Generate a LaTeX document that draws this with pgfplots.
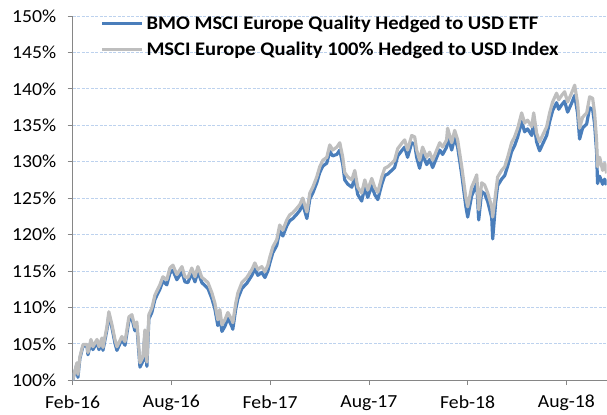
\documentclass[border=0pt]{standalone}
\usepackage{fontspec}
\setmainfont{Carlito}[FakeStretch=1.07]
\usepackage{pgfplots}
\pgfplotsset{compat=1.18}
\usepackage{pgfplotstable}
\definecolor{etfblue}{HTML}{4A7EBB}
\definecolor{idxgray}{HTML}{BEBEBE}
\definecolor{gridblue}{HTML}{BDD2EE}
\definecolor{axgray}{HTML}{868686}

\pgfplotstableread{
m v
0.00 100.0
0.26 102.4
0.32 100.8
0.44 103.2
0.63 104.9
0.87 104.9
0.93 103.8
1.11 105.6
1.23 104.6
1.48 105.6
1.60 104.6
1.78 105.8
1.84 104.5
2.08 107.3
2.20 109.4
2.39 107.6
2.57 105.6
2.69 104.6
2.99 106.0
3.18 105.3
3.42 108.7
3.60 109.0
3.78 107.3
3.90 108.0
4.09 102.4
4.27 103.2
4.39 106.9
4.51 102.5
4.63 109.0
4.81 109.9
5.00 111.7
5.30 113.1
5.48 114.2
5.72 113.8
5.91 115.4
6.09 115.8
6.33 114.5
6.64 115.6
6.82 114.2
7.00 114.1
7.24 115.4
7.43 114.2
7.61 115.6
7.85 114.1
8.03 113.8
8.22 113.4
8.46 112.0
8.64 110.6
8.82 108.3
8.94 109.7
9.07 107.6
9.25 108.3
9.43 109.3
9.67 108.3
9.73 107.9
9.91 110.6
10.04 112.0
10.28 113.4
10.58 114.1
10.89 115.2
11.07 116.1
11.25 115.2
11.49 115.6
11.68 114.9
11.86 115.8
11.98 116.9
12.16 118.3
12.40 119.3
12.58 121.3
12.77 120.6
13.01 122.0
13.19 122.7
13.38 123.0
13.62 123.6
13.80 124.1
13.98 125.0
14.23 123.1
14.41 125.7
14.59 126.5
14.83 127.9
15.01 129.3
15.20 130.2
15.44 130.6
15.62 132.3
15.80 131.6
16.05 132.0
16.23 132.6
16.41 130.6
16.53 128.5
16.72 127.9
16.96 127.5
17.14 128.8
17.32 126.5
17.56 125.7
17.75 127.5
17.93 126.1
18.17 127.7
18.35 126.5
18.54 125.8
18.78 127.9
18.96 129.1
19.14 129.3
19.38 129.8
19.56 130.2
19.75 131.8
19.99 132.5
20.17 133.0
20.35 131.6
20.60 133.6
20.78 133.4
20.90 131.6
21.08 130.2
21.26 132.0
21.51 130.6
21.69 131.3
21.87 130.2
22.12 131.6
22.30 132.6
22.48 132.0
22.72 133.0
22.78 134.6
23.03 132.6
23.21 134.3
23.39 133.0
23.64 129.3
23.88 125.2
24.00 123.8
24.24 126.5
24.43 127.5
24.55 128.2
24.67 123.4
24.85 127.1
25.03 126.8
25.22 125.7
25.46 123.8
25.52 122.4
25.70 125.7
25.82 127.9
26.06 128.8
26.25 129.3
26.43 130.6
26.67 132.6
26.85 133.4
27.04 134.6
27.28 136.7
27.46 135.3
27.64 135.7
27.89 134.8
28.01 136.7
28.19 133.9
28.37 132.7
28.55 133.6
28.80 134.8
28.98 136.7
29.16 138.2
29.40 139.4
29.53 138.5
29.71 139.1
29.89 139.6
30.07 138.2
30.31 139.4
30.50 140.5
30.68 138.0
30.80 134.6
30.98 136.1
31.23 136.7
31.41 138.9
31.59 138.7
31.71 136.7
31.83 133.0
31.89 129.3
32.02 130.6
32.20 128.8
32.32 129.8
32.44 128.4
}\idxdata

\pgfplotstableread{
m v
0.00 100.0
0.26 102.2
0.32 100.4
0.44 103.0
0.63 104.7
0.87 104.7
0.93 103.5
1.11 105.2
1.23 104.2
1.48 105.2
1.60 104.2
1.78 105.4
1.84 104.1
2.08 106.9
2.20 108.9
2.39 107.2
2.57 105.1
2.69 104.1
2.99 105.6
3.18 104.8
3.42 108.2
3.60 108.5
3.78 106.8
3.90 107.5
4.09 101.8
4.27 102.6
4.39 106.3
4.51 101.9
4.63 108.4
4.81 109.3
5.00 111.1
5.30 112.5
5.48 113.6
5.72 113.1
5.91 114.7
6.09 115.1
6.33 113.8
6.64 114.9
6.82 113.5
7.00 113.4
7.24 114.7
7.43 113.5
7.61 114.9
7.85 113.4
8.03 113.0
8.22 112.6
8.46 111.2
8.64 109.8
8.82 107.5
8.94 108.9
9.07 106.7
9.25 107.4
9.43 108.5
9.67 107.4
9.73 107.0
9.91 109.8
10.04 111.2
10.28 112.6
10.58 113.3
10.89 114.4
11.07 115.3
11.25 114.4
11.49 114.8
11.68 114.1
11.86 115.0
11.98 116.1
12.16 117.5
12.40 118.5
12.58 120.5
12.77 119.8
13.01 121.2
13.19 121.9
13.38 122.2
13.62 122.8
13.80 123.3
13.98 124.2
14.23 122.2
14.41 124.9
14.59 125.7
14.83 127.1
15.01 128.5
15.20 129.4
15.44 129.8
15.62 131.4
15.80 130.8
16.05 131.0
16.23 131.6
16.41 129.6
16.53 127.5
16.72 126.9
16.96 126.5
17.14 127.8
17.32 125.5
17.56 124.6
17.75 126.5
17.93 125.1
18.17 126.7
18.35 125.5
18.54 124.8
18.78 126.9
18.96 128.1
19.14 128.3
19.38 128.8
19.56 129.2
19.75 130.8
19.99 131.5
20.17 132.0
20.35 130.6
20.60 132.6
20.78 132.4
20.90 130.6
21.08 129.1
21.26 131.0
21.51 129.6
21.69 130.3
21.87 129.2
22.12 130.6
22.30 131.6
22.48 131.0
22.72 132.0
22.78 133.6
23.03 131.6
23.21 133.3
23.39 132.0
23.64 128.2
23.88 124.0
24.00 122.4
24.24 125.3
24.43 126.3
24.55 127.0
24.67 122.0
24.85 125.9
25.03 125.6
25.22 124.5
25.46 122.3
25.52 119.4
25.70 124.4
25.82 126.7
26.06 127.6
26.25 128.1
26.43 129.4
26.67 131.4
26.85 132.2
27.04 133.4
27.28 135.5
27.46 134.1
27.64 134.5
27.89 133.6
28.01 135.5
28.19 132.7
28.37 131.5
28.55 132.4
28.80 133.6
28.98 135.5
29.16 137.0
29.40 138.1
29.53 137.2
29.71 137.8
29.89 138.3
30.07 136.8
30.31 138.0
30.50 139.1
30.68 136.6
30.80 133.1
30.98 134.6
31.23 135.2
31.41 137.4
31.59 137.2
31.71 135.2
31.83 131.4
31.89 127.0
32.02 128.0
32.20 126.9
32.32 127.6
32.44 126.8
}\etfdata

\begin{document}
\begin{tikzpicture}
\begin{axis}[
  name=ax,
  scale only axis,
  width=534.3bp, height=364.5bp,
  xmin=0, xmax=32.44,
  ymin=100, ymax=150,
  axis lines=left,
  axis line style={-, draw=axgray, line width=0.8bp},
  tick align=outside,
  major tick length=5bp,
  tick style={draw=axgray, line width=0.8bp},
  xtick={0,6,12,18,24,30},
  xticklabels={Feb-16,Aug-16,Feb-17,Aug-17,Feb-18,Aug-18},
  ytick={100,105,...,150},
  yticklabel={\pgfmathprintnumber{\tick}\%},
  /pgf/number format/assume math mode=true,
  tick label style={font=\fontsize{18.5}{22}\selectfont, text=black},
  yticklabel style={xshift=-8bp},
  xticklabel style={yshift=-6.5bp},
  ymajorgrids,
  major grid style={draw=gridblue, line width=0.8bp, dash pattern=on 3bp off 1.5bp},
  legend style={draw=none, fill=none, at={(rel axis cs:0,1)}, anchor=north west,
    xshift=28bp, yshift=1bp, font=\bfseries\fontsize{19.3}{22}\selectfont,
    row sep=9bp, inner sep=0pt, nodes={inner xsep=2.5bp, inner ysep=1bp}},
  legend cell align=left,
  legend image code/.code={\draw[#1] (0bp,0bp) -- (40bp,0bp);},
  clip=true,
]
\addplot[etfblue, line width=3.2bp, line join=round] table[x=m, y=v] {\etfdata};
\addlegendentry{BMO MSCI Europe Quality Hedged to USD ETF}
\addplot[idxgray, line width=3.2bp, line join=round] table[x=m, y=v] {\idxdata};
\addlegendentry{MSCI Europe Quality 100\% Hedged to USD Index}
\end{axis}
\path ([shift={(-72.7bp,-31.5bp)}]ax.south west) rectangle ([yshift=16bp]ax.north east);
\end{tikzpicture}
\end{document}
